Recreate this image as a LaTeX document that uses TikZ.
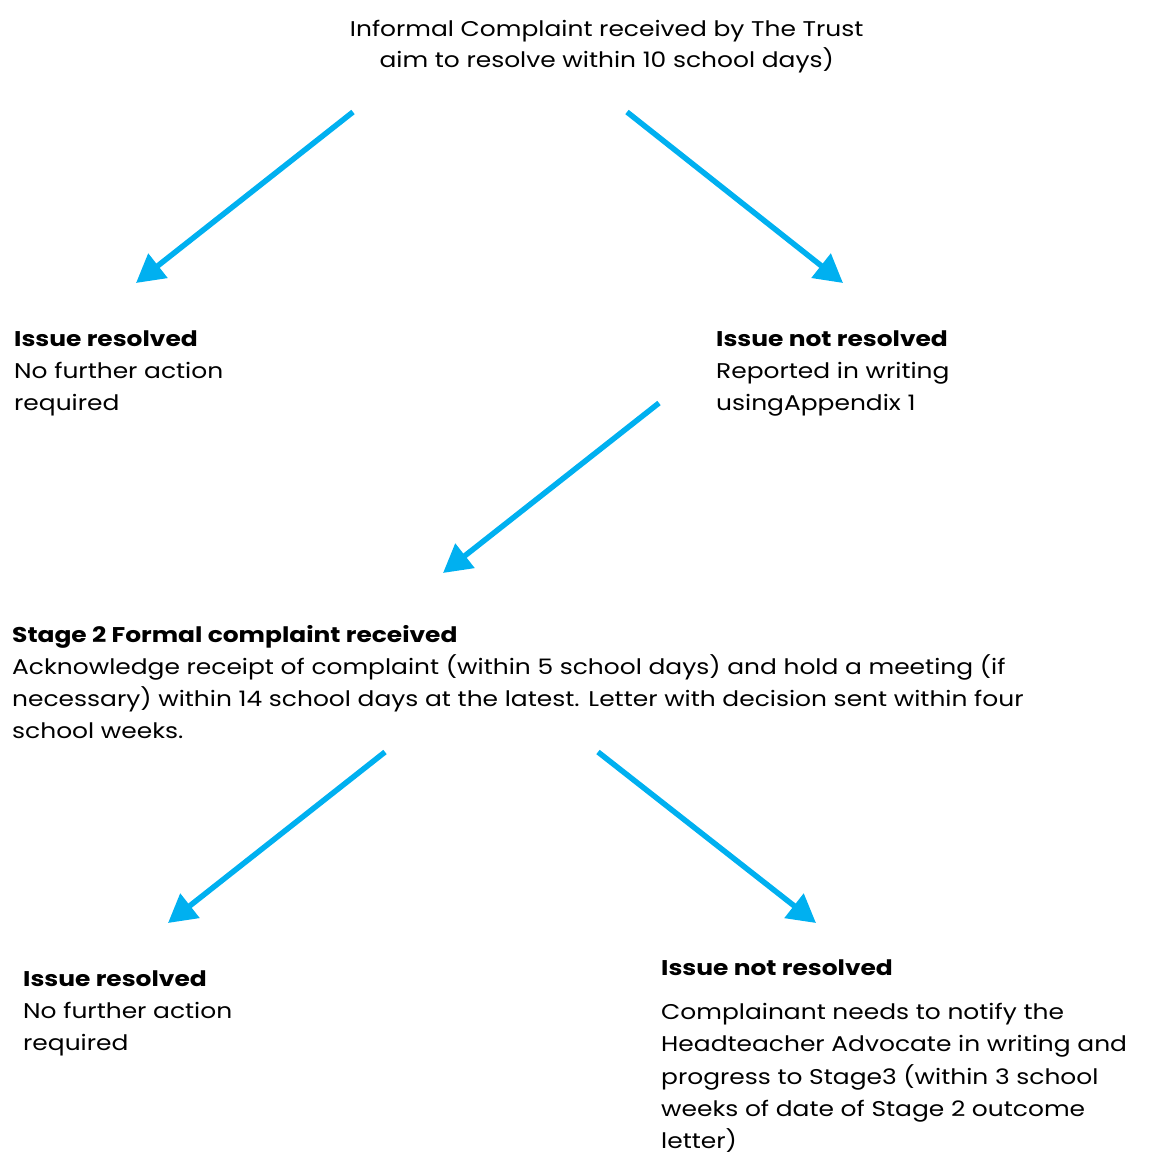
\documentclass[tikz,border=0pt]{standalone}
\usepackage{fontspec}
\setmainfont{Poppins}[FakeStretch=1.17]
\usetikzlibrary{arrows.meta}
\definecolor{arrowblue}{HTML}{00B0F0}
\newcommand\blk[1]{\vtop{\baselineskip=32.3pt\lineskiplimit=-100pt\lineskip=0pt #1}}
\newcommand\ctrline[1]{\hbox to 0pt{\hss #1\hss}}
\tikzset{
  flow/.style={draw=arrowblue, line width=5.5pt, -{Triangle[length=28pt,width=30pt]}},
  txt/.style={anchor=base west, inner sep=0pt, font=\fontsize{21.3}{32.3}\selectfont},
}
\begin{document}
\begin{tikzpicture}[x=1pt,y=-1pt]
\useasboundingbox (0,0) rectangle (1159,1153);
\node[txt] (top) at (606,37) {\vtop{\baselineskip=31pt\lineskiplimit=-100pt\lineskip=0pt\ctrline{Informal Complaint received by The Trust}\ctrline{aim to resolve within 10 school days)}}};
\node[txt] (res1) at (14,346) {\blk{\hbox{\bfseries Issue resolved}\hbox{No further action}\hbox{required}}};
\node[txt] (nres1) at (716,346) {\blk{\hbox{\bfseries Issue not resolved}\hbox{Reported in writing}\hbox{usingAppendix 1}}};
\node[txt] (stage2) at (12,642) {\blk{\hbox{\bfseries Stage 2 Formal complaint received}\hbox{Acknowledge receipt of complaint (within 5 school days) and hold a meeting (if}\hbox{necessary) within 14 school days at the latest. Letter with decision sent within four}\hbox{school weeks.}}};
\node[txt] (res2) at (23,986) {\blk{\hbox{\bfseries Issue resolved}\hbox{No further action}\hbox{required}}};
\node[txt] (nres2) at (661,975) {\blk{\hbox{\bfseries Issue not resolved}\vskip 12.2pt\hbox{Complainant needs to notify the}\hbox{Headteacher Advocate in writing and}\hbox{progress to Stage3 (within 3 school}\hbox{weeks of date of Stage 2 outcome}\hbox{letter)}}};
\coordinate (a1s) at (353,112); \coordinate (a1e) at (136,283);
\coordinate (a2s) at (627,112); \coordinate (a2e) at (843,283);
\coordinate (a3s) at (659,403); \coordinate (a3e) at (443,573);
\coordinate (a4s) at (385,752); \coordinate (a4e) at (168,923);
\coordinate (a5s) at (598,752); \coordinate (a5e) at (816,923);
\draw[flow] (a1s) -- (a1e);
\draw[flow] (a2s) -- (a2e);
\draw[flow] (a3s) -- (a3e);
\draw[flow] (a4s) -- (a4e);
\draw[flow] (a5s) -- (a5e);
\end{tikzpicture}
\end{document}
